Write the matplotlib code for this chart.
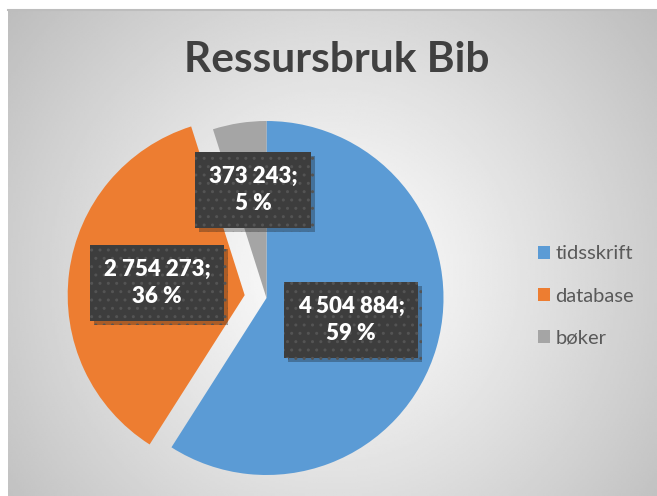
import matplotlib
matplotlib.use("Agg")
import matplotlib.pyplot as plt
import matplotlib.patheffects as pe
import numpy as np

categories = ["tidsskrift", "database", "bøker"]
values = [4504884, 2754273, 373243]
colors = ["#5B9BD5", "#ED7D31", "#A5A5A5"]
title = "Ressursbruk Bib"

W, H = 657, 496
plt.rcParams["font.family"] = ["Lato", "DejaVu Sans"]

fig = plt.figure(figsize=(W / 100, H / 100), dpi=100)
fig.patch.set_facecolor("white")

# chart area with radial gradient
left, top = 8, 10
bg = fig.add_axes([left / W, 0, 1 - left / W, (H - top) / H])
gx, gy = np.meshgrid(np.linspace(left, W, 300), np.linspace(top, H, 240))
cx, cy = 333, 275
dist = np.hypot(gx - cx, gy - cy) / np.hypot(W - cx, H - cy)
shade = 1 - 0.24 * np.clip(dist, 0, 1.2) ** 1.1
bg.imshow(shade, cmap="gray", vmin=0, vmax=1, aspect="auto", extent=(0, 1, 0, 1))
bg.set_xticks([])
bg.set_yticks([])
for side in ("left", "right", "bottom"):
    bg.spines[side].set_visible(False)
bg.spines["top"].set_color("#bdbdbd")
bg.spines["top"].set_linewidth(1.5)

ax = fig.add_axes([0, 0, 1, 1])
ax.set_facecolor("none")
total = sum(values)
wedges, _ = ax.pie(
    values,
    colors=colors,
    startangle=90,
    counterclock=False,
    center=(266.5, H - 298),
    radius=177,
    explode=[0, 22, 0],
    wedgeprops=dict(linewidth=0),
)
ax.set_xlim(0, W)
ax.set_ylim(0, H)
ax.set_aspect("auto")
ax.axis("off")

ax.text(337, H - 60, title, ha="center", va="center", fontsize=30.5,
        fontweight="bold", color="#404040")

label_pos = [(351, H - 320), (157, H - 283), (253, H - 190)]
for v, (lx, ly) in zip(values, label_pos):
    txt = f"{v:,}".replace(",", " ") + ";\n" + f"{round(100 * v / total)} %"
    t = ax.text(lx, ly, txt, ha="center", va="center", fontsize=16, fontweight="heavy",
                color="white", linespacing=1.35,
                bbox=dict(boxstyle="square,pad=0.62", fc="#3d3d3d", ec="#545454",
                          lw=0, hatch=".."))
    t.get_bbox_patch().set_path_effects(
        [pe.SimplePatchShadow(offset=(3, -3), alpha=0.3), pe.Normal()])

handles = [plt.Rectangle((0, 0), 1, 1, fc=c, ec="none") for c in colors]
leg = ax.legend(handles, categories, loc="center left",
                bbox_to_anchor=(520 / W, 1 - 296 / H), frameon=False,
                fontsize=14.5, labelcolor="#595959", handlelength=0.6,
                handleheight=0.6, handletextpad=0.25, labelspacing=1.25)

fig.savefig("out.png", dpi=100)
